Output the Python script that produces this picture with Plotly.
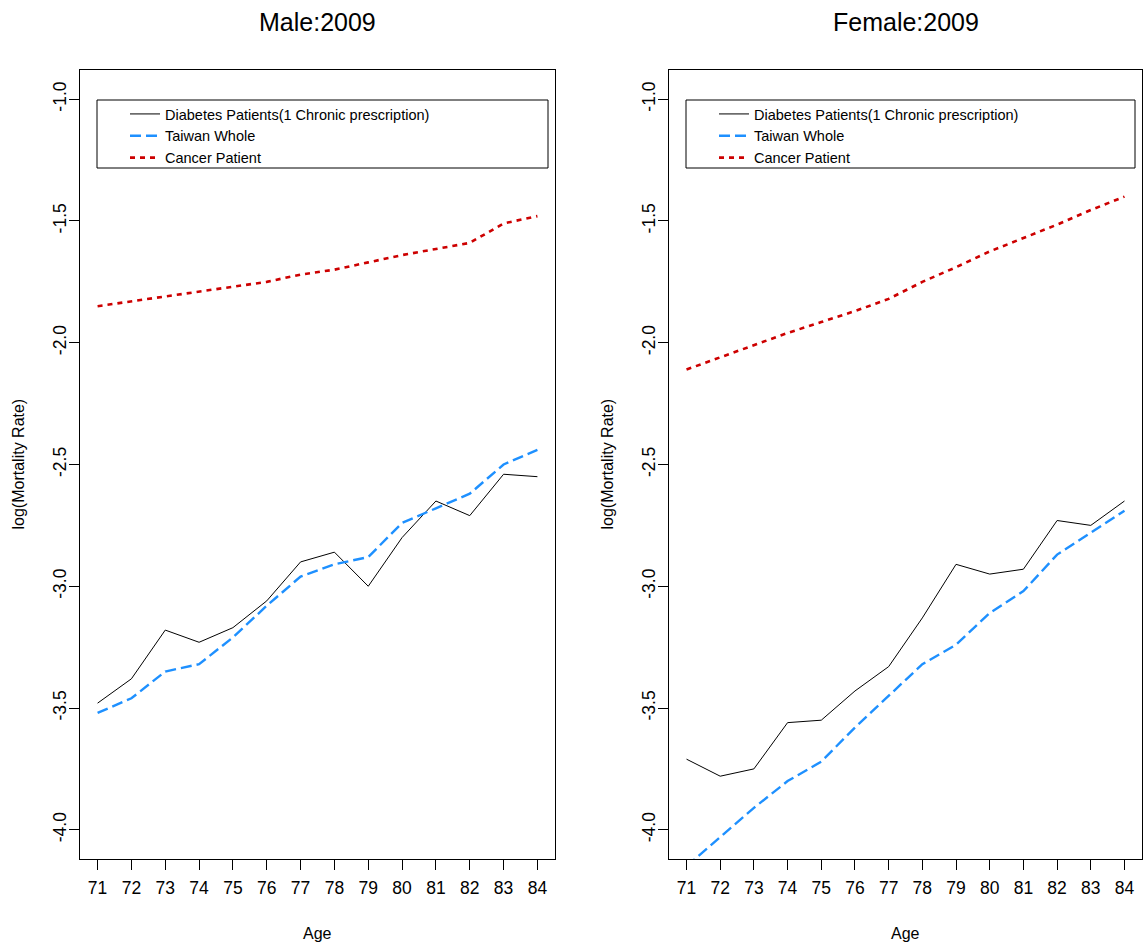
import plotly.graph_objects as go

# Age groups and log mortality rates, 2009
ages = list(range(71, 85))
age_labels = [str(a) for a in ages]

male_diabetes = [-3.48, -3.38, -3.18, -3.23, -3.17, -3.06, -2.90, -2.86, -3.00, -2.80, -2.65, -2.71, -2.54, -2.55]
male_taiwan = [-3.52, -3.46, -3.35, -3.32, -3.21, -3.08, -2.96, -2.91, -2.88, -2.74, -2.68, -2.62, -2.50, -2.44]
male_cancer = [-1.85, -1.83, -1.81, -1.79, -1.77, -1.75, -1.72, -1.70, -1.67, -1.64, -1.615, -1.59, -1.51, -1.48]

female_diabetes = [-3.71, -3.78, -3.75, -3.56, -3.55, -3.43, -3.33, -3.13, -2.91, -2.95, -2.93, -2.73, -2.75, -2.65]
female_taiwan = [-4.15, -4.03, -3.91, -3.80, -3.72, -3.58, -3.45, -3.32, -3.24, -3.11, -3.02, -2.87, -2.78, -2.69]
female_cancer = [-2.11, -2.06, -2.01, -1.96, -1.915, -1.87, -1.82, -1.75, -1.69, -1.625, -1.57, -1.515, -1.455, -1.40]

y_ticks = [-4.0, -3.5, -3.0, -2.5, -2.0, -1.5, -1.0]
y_tick_labels = ["-4.0", "-3.5", "-3.0", "-2.5", "-2.0", "-1.5", "-1.0"]

series_names = ["Diabetes Patients(1 Chronic prescription)", "Taiwan Whole", "Cancer Patient"]

W, H = 1144, 951
FONT = "Liberation Sans, Arial, sans-serif"

line_styles = [
    dict(color="black", width=1.0),
    dict(color="#1E90FF", width=2.4, dash="11px,5px"),
    dict(color="#CD0000", width=2.6, dash="5px,5px"),
]

# plot boxes in pixels (left, right, top, bottom)
boxes = [(80, 555, 70, 859), (669, 1142, 70, 859)]

fig = go.Figure()

panels = [
    ("Male:2009", [male_diabetes, male_taiwan, male_cancer], "x", "y", "legend"),
    ("Female:2009", [female_diabetes, female_taiwan, female_cancer], "x2", "y2", "legend2"),
]

for (title, series, xa, ya, lg) in panels:
    for name, vals, st in zip(series_names, series, line_styles):
        fig.add_trace(go.Scatter(
            x=ages, y=vals, mode="lines", name=name, line=st,
            xaxis=xa, yaxis=ya, legend=lg, hoverinfo="skip",
        ))

axis_common = dict(
    showline=True, linecolor="black", linewidth=1, mirror=True,
    ticks="outside", ticklen=10, tickwidth=1, tickcolor="black",
    showgrid=False, zeroline=False,
    tickfont=dict(family=FONT, size=17.5, color="black"),
)

layout = dict(
    width=W, height=H,
    margin=dict(l=0, r=0, t=0, b=0),
    paper_bgcolor="white", plot_bgcolor="white",
    font=dict(family=FONT, color="black"),
    showlegend=True,
    annotations=[], shapes=[],
)

for i, (box, (title, _, xa, ya, lg)) in enumerate(zip(boxes, panels)):
    l, r, t, b = box
    xdom = [l / W, r / W]
    ydom = [1 - b / H, 1 - t / H]
    suffix = "" if i == 0 else "2"
    layout["xaxis" + suffix] = dict(
        axis_common, domain=xdom, range=[70.48, 84.52],
        tickvals=ages, ticktext=age_labels, anchor="y" + suffix,
        ticklabelstandoff=3,
    )
    layout["yaxis" + suffix] = dict(
        axis_common, domain=ydom, range=[-4.12, -0.88],
        tickvals=y_ticks, ticktext=y_tick_labels, tickangle=-90,
        anchor="x" + suffix, ticklabelstandoff=-4,
    )
    cx = (l + r) / 2 / W
    layout["annotations"] += [
        dict(text=title, x=cx, y=1 - 22 / H, xref="paper", yref="paper",
             showarrow=False, font=dict(family=FONT, size=25, color="black"),
             xanchor="center", yanchor="middle"),
        dict(text="Age", x=cx, y=1 - 933 / H, xref="paper", yref="paper",
             showarrow=False, font=dict(family=FONT, size=16, color="black"),
             xanchor="center", yanchor="middle"),
        dict(text="log(Mortality Rate)", x=(l - 62) / W, y=1 - (t + b) / 2 / H,
             xref="paper", yref="paper", textangle=-90, showarrow=False,
             font=dict(family=FONT, size=16, color="black"),
             xanchor="center", yanchor="middle"),
    ]
    # legend frame
    layout["shapes"].append(dict(
        type="rect", xref="paper", yref="paper",
        x0=(l + 17) / W, x1=(r - 7) / W, y0=1 - 168 / H, y1=1 - 100 / H,
        line=dict(color="black", width=1), fillcolor="rgba(0,0,0,0)",
    ))
    layout[lg] = dict(
        x=(l + 45) / W, y=1 - 98 / H, xanchor="left", yanchor="top",
        bgcolor="rgba(0,0,0,0)", borderwidth=0,
        font=dict(family=FONT, size=14.5, color="black"),
        tracegroupgap=0, itemwidth=30,
    )

fig.update_layout(**layout)
fig.write_html("out.html")
